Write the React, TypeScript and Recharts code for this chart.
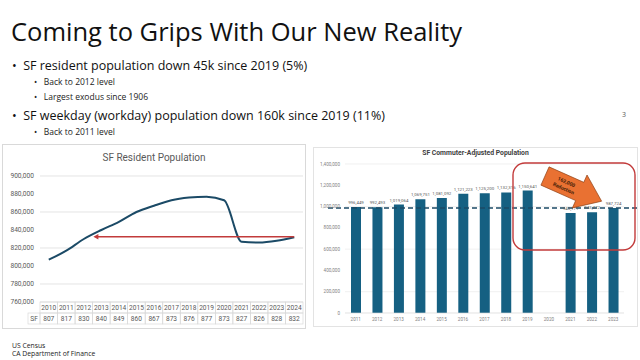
import React from "react";
import {
  LineChart,
  Line,
  BarChart,
  Bar,
  XAxis,
  YAxis,
  CartesianGrid,
  ReferenceLine,
  LabelList,
} from "recharts";

// SF resident population (thousands), 2010-2024
const residentYears = ["2010", "2011", "2012", "2013", "2014", "2015", "2016", "2017", "2018", "2019", "2020", "2021", "2022", "2023", "2024"];
const residentK = [807, 817, 830, 840, 849, 860, 867, 873, 876, 877, 873, 827, 826, 828, 832];
const residentTicks = [760, 780, 800, 820, 840, 860, 880, 900];

// SF commuter-adjusted population, 2011-2023 (no 2020 figure)
const commuterYears = ["2011", "2012", "2013", "2014", "2015", "2016", "2017", "2018", "2019", "2020", "2021", "2022", "2023"];
const commuterPop: (number | null)[] = [996449, 992493, 1019064, 1069751, 1081092, 1121223, 1125200, 1132316, 1150641, null, 940171, 945472, 987724];
const commuterTicks = [0, 200000, 400000, 600000, 800000, 1000000, 1200000, 1400000];
const level2023 = 987724;
const level2024Resident = 832.5;

const residentData = residentYears.map((year, i) => ({ year, pop: residentK[i] }));
const commuterData = commuterYears.map((year, i) => ({ year, pop: commuterPop[i] }));

const SLIDE_FONT = "'Open Sans', Roboto, sans-serif";
const CHART_FONT = "Roboto, 'Open Sans', sans-serif";

// left chart geometry
const L_W = 302;
const L_H = 183;
const L_LEFT = 37;
const L_RIGHT = 2;
const L_BAND = (L_W - L_LEFT - L_RIGHT) / residentYears.length;
const ROW_H = 11;

const fmt = (v: number) => v.toLocaleString("en-US");

function TableTick(props: any) {
  const { x, y, payload } = props;
  const i = residentYears.indexOf(payload.value);
  const w = L_BAND;
  const cellStroke = "#d9d9d9";
  return (
    <g>
      <rect x={x - w / 2} y={y} width={w} height={ROW_H} fill="none" stroke={cellStroke} strokeWidth={0.7} />
      <text x={x} y={y + ROW_H / 2 + 2.3} textAnchor="middle" fontSize={6.6} fill="#595959">
        {payload.value}
      </text>
      <rect x={x - w / 2} y={y + ROW_H} width={w} height={ROW_H} fill="none" stroke={cellStroke} strokeWidth={0.7} />
      <text x={x} y={y + ROW_H * 1.5 + 2.3} textAnchor="middle" fontSize={6.6} fill="#595959">
        {residentK[i]}
      </text>
      {i === 0 && (
        <g>
          <rect x={x - w / 2 - 12} y={y + ROW_H} width={12} height={ROW_H} fill="none" stroke={cellStroke} strokeWidth={0.7} />
          <text x={x - w / 2 - 6} y={y + ROW_H * 1.5 + 2.3} textAnchor="middle" fontSize={6.6} fill="#595959">
            SF
          </text>
        </g>
      )}
    </g>
  );
}

function ArrowBack(props: any) {
  const { x1, y1, x2, y2 } = props;
  const tip = x2 - 8;
  return (
    <g>
      <line x1={x1} y1={y1} x2={tip + 4} y2={y2} stroke="#c23b3b" strokeWidth={1.6} />
      <polygon points={`${tip},${y2} ${tip + 5},${y2 - 2.8} ${tip + 5},${y2 + 2.8}`} fill="#c23b3b" />
    </g>
  );
}

function WideDash(props: any) {
  const { x1, y1, x2, y2 } = props;
  return (
    <line x1={x1 - 17} y1={y1} x2={x2 + 13} y2={y2} stroke="#1b4a66" strokeWidth={1.5} strokeDasharray="5 3" />
  );
}

function BarValue(props: any) {
  const { x, y, width, value } = props;
  if (value == null) return null;
  return (
    <text x={x + width / 2} y={y - 3} textAnchor="middle" fontSize={4.4} fill="#595959">
      {fmt(value)}
    </text>
  );
}

function ResidentChart() {
  return (
    <div style={{ position: "absolute", left: 2, top: 144, width: L_W + 2, height: L_H + 2, border: "1px solid #d9d9d9", boxSizing: "border-box", background: "#fff" }}>
      <div style={{ position: "absolute", left: 0, right: 0, top: 7, textAlign: "center", fontFamily: CHART_FONT, fontSize: 10, color: "#595959" }}>
        SF Resident Population
      </div>
      <LineChart width={L_W} height={L_H} data={residentData} margin={{ top: 31, right: L_RIGHT, left: 5, bottom: 2 }} style={{ fontFamily: CHART_FONT }}>
        <CartesianGrid vertical={false} stroke="#d9d9d9" strokeWidth={0.7} />
        <XAxis
          dataKey="year"
          interval={0}
          axisLine={false}
          tickLine={false}
          tickSize={0}
          tickMargin={0}
          height={24}
          padding={{ left: L_BAND / 2, right: L_BAND / 2 }}
          tick={<TableTick />}
        />
        <YAxis
          width={32}
          domain={[760, 900]}
          ticks={residentTicks}
          axisLine={false}
          tickLine={false}
          tickSize={0}
          tickMargin={6}
          tick={{ fontSize: 6.6, fill: "#595959" }}
          tickFormatter={(v: number) => fmt(v * 1000)}
        />
        <Line type="monotone" dataKey="pop" stroke="#1b4a66" strokeWidth={2} dot={false} isAnimationActive={false} />
        <ReferenceLine
          segment={[{ x: "2024", y: level2024Resident }, { x: "2013", y: level2024Resident }]}
          shape={<ArrowBack />}
        />
      </LineChart>
    </div>
  );
}

function CommuterChart() {
  return (
    <div style={{ position: "absolute", left: 313, top: 147, width: 325, height: 180, border: "1px solid #e3e3e3", boxSizing: "border-box", background: "#fff" }}>
      <div style={{ position: "absolute", left: 0, right: 0, top: 1, textAlign: "center", fontFamily: CHART_FONT, fontSize: 6.8, fontWeight: 700, color: "#404040" }}>
        SF Commuter-Adjusted Population
      </div>
      <BarChart width={323} height={178} data={commuterData} margin={{ top: 16, right: 13, left: 5, bottom: 3 }} style={{ fontFamily: CHART_FONT }}>
        <CartesianGrid vertical={false} stroke="#e6e6e6" strokeWidth={0.6} />
        <XAxis
          dataKey="year"
          interval={0}
          axisLine={{ stroke: "#e0e0e0", strokeWidth: 0.6 }}
          tickLine={false}
          tickSize={0}
          tickMargin={5}
          height={10}
          tick={{ fontSize: 4.6, fill: "#7f7f7f" }}
        />
        <YAxis
          width={26}
          domain={[0, 1400000]}
          ticks={commuterTicks}
          axisLine={false}
          tickLine={false}
          tickSize={0}
          tickMargin={5}
          tick={{ fontSize: 4.6, fill: "#7f7f7f" }}
          tickFormatter={fmt}
        />
        <Bar dataKey="pop" fill="#156082" barSize={10} isAnimationActive={false}>
          <LabelList dataKey="pop" content={<BarValue />} />
        </Bar>
        <ReferenceLine y={level2023} shape={<WideDash />} />
      </BarChart>
    </div>
  );
}

function Annotations() {
  return (
    <svg width={640} height={360} style={{ position: "absolute", left: 0, top: 0, pointerEvents: "none" }}>
      <rect x={513} y={163} width={122} height={87} rx={12} fill="none" stroke="#c23b3b" strokeWidth={1.4} />
      <g transform="translate(545,176) rotate(24)">
        <polygon points="0,-10 38,-10 38,-18 62,0 38,18 38,10 0,10" fill="#e97132" stroke="#8a3d12" strokeWidth={0.6} />
        <text x={22} y={-1.5} textAnchor="middle" fontSize={5} fontWeight={700} fill="#3a1a06" fontFamily={CHART_FONT}>
          162,000
        </text>
        <text x={22} y={5.5} textAnchor="middle" fontSize={5} fontWeight={700} fill="#3a1a06" fontFamily={CHART_FONT}>
          Reduction
        </text>
      </g>
    </svg>
  );
}

export default function App() {
  const bullet = { position: "absolute" as const, left: 12, fontSize: 12.5, color: "#111", whiteSpace: "nowrap" as const };
  const sub = { position: "absolute" as const, left: 34, fontSize: 8.5, color: "#222", whiteSpace: "nowrap" as const };
  return (
    <div style={{ position: "fixed", left: 0, top: 0, width: 640, height: 360, background: "#fff", overflow: "hidden", fontFamily: SLIDE_FONT }}>
      <div style={{ position: "absolute", left: 11, top: 14, fontSize: 25.5, color: "#111", whiteSpace: "nowrap" }}>
        Coming to Grips With Our New Reality
      </div>
      <div style={{ ...bullet, top: 57 }}>•&nbsp;&nbsp;SF resident population down 45k since 2019 (5%)</div>
      <div style={{ ...sub, top: 76 }}>•&nbsp;&nbsp;&nbsp;Back to 2012 level</div>
      <div style={{ ...sub, top: 91 }}>•&nbsp;&nbsp;&nbsp;Largest exodus since 1906</div>
      <div style={{ ...bullet, top: 107 }}>•&nbsp;&nbsp;SF weekday (workday) population down 160k since 2019 (11%)</div>
      <div style={{ ...sub, top: 126 }}>•&nbsp;&nbsp;&nbsp;Back to 2011 level</div>
      <div style={{ position: "absolute", left: 622, top: 110, fontSize: 7, color: "#595959" }}>3</div>

      <ResidentChart />
      <CommuterChart />
      <Annotations />

      <div style={{ position: "absolute", left: 12, top: 342, fontSize: 6.8, color: "#222", lineHeight: "8px" }}>
        US Census
        <br />
        CA Department of Finance
      </div>
    </div>
  );
}
